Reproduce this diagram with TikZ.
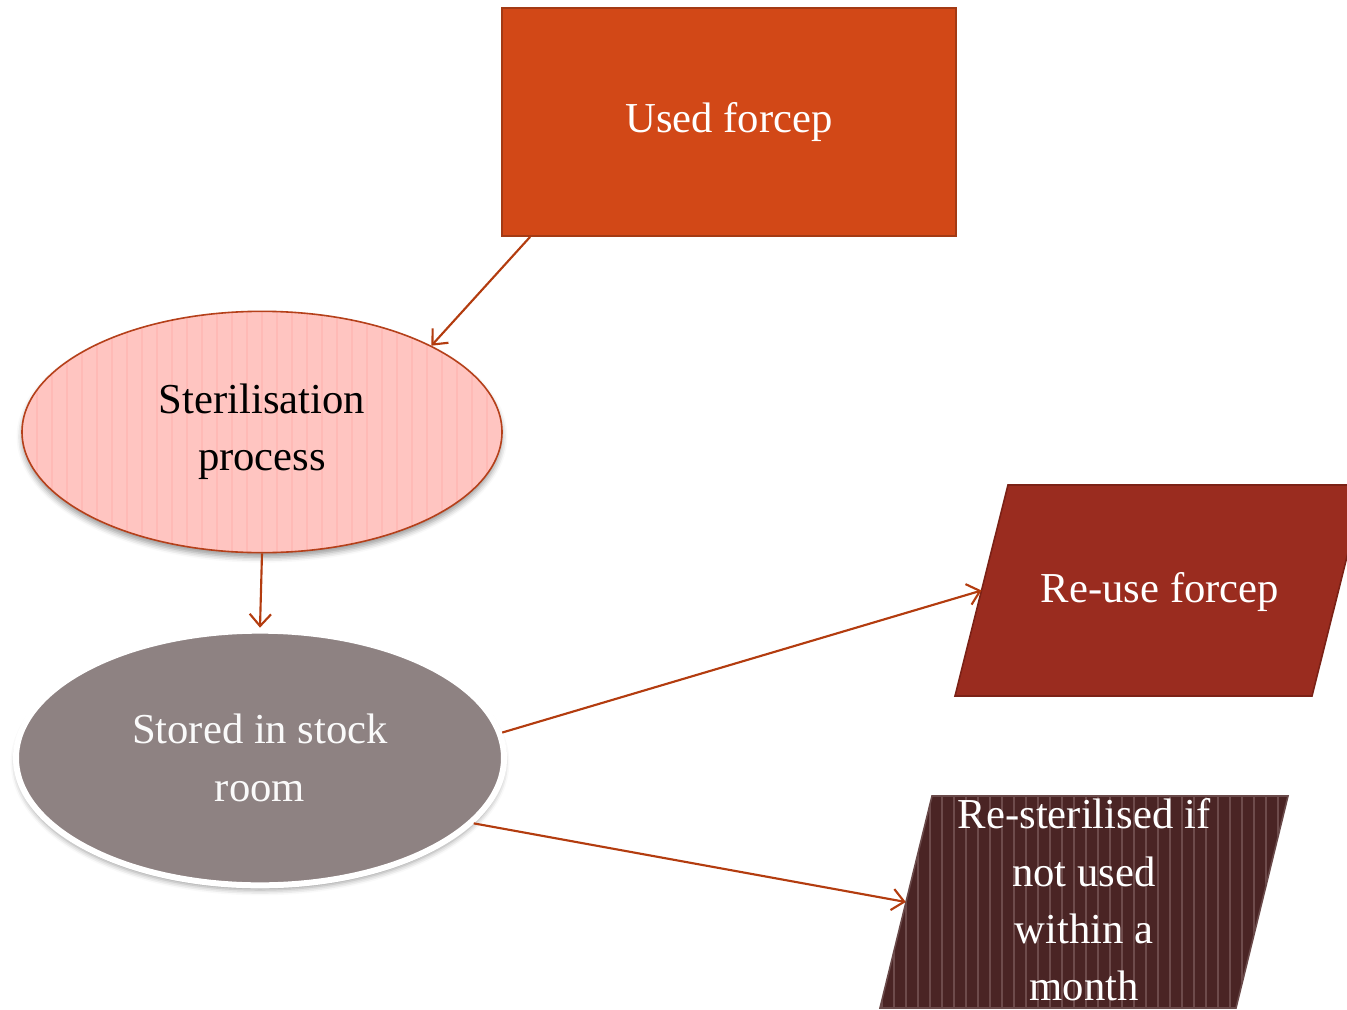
\documentclass[tikz,border=0pt]{standalone}
\usepackage{fontspec}
\setmainfont{Liberation Serif}
\usetikzlibrary{shapes.geometric,arrows.meta,shadows.blur}

\definecolor{usedfill}{HTML}{D24817}
\definecolor{usedline}{HTML}{A33A14}
\definecolor{sterfill}{HTML}{FFC5C1}
\definecolor{sterstripe}{HTML}{FFBAB6}
\definecolor{sterline}{HTML}{B5401A}
\definecolor{storefill}{HTML}{8E8282}
\definecolor{reusefill}{HTML}{9A2C1F}
\definecolor{reuseline}{HTML}{7B2116}
\definecolor{resfill}{HTML}{4A2424}
\definecolor{resstripe}{HTML}{6E4B4B}
\definecolor{resline}{HTML}{6A4A4A}
\definecolor{flow}{HTML}{B33C0F}

\tikzset{
  txt/.style={font=\fontsize{32}{43}\selectfont, align=center},
  usedbox/.style={rectangle, txt, text=white, fill=usedfill, draw=usedline,
    line width=1.2pt, minimum width=340.5pt, minimum height=171pt},
  stripes/.style n args={3}{path picture={
      \foreach \k in {0,...,45}
        \draw[#1, line width=#2]
          ([xshift=\k*#3]path picture bounding box.south west) --
          ([xshift=\k*#3]path picture bounding box.north west);}},
  sterell/.style={ellipse, txt, text=black, fill=sterfill, draw=sterline,
    line width=1.2pt, minimum width=360pt, minimum height=181pt,
    stripes={sterstripe}{2.2pt}{11.25pt},
    blur shadow={shadow xshift=0pt, shadow yshift=-3.5pt, shadow blur radius=4pt,
      shadow opacity=40}},
  storeell/.style={ellipse, txt, text=white!96!storefill, fill=storefill,
    draw=white, line width=4.5pt, minimum width=366pt, minimum height=191pt,
    blur shadow={shadow xshift=0pt, shadow yshift=-3.5pt, shadow blur radius=4pt,
      shadow opacity=40}},
  parabox/.style={line width=1.2pt, line join=miter},
  flowarrow/.style={draw=flow, line width=1.6pt,
    -{Straight Barb[length=9pt, width=16pt, line width=1.6pt]}}
}

\begin{document}
\begin{tikzpicture}[x=0.75pt, y=-0.75pt]
\useasboundingbox (0,0) rectangle (1347,1010);
\clip (0,0) rectangle (1347,1010);

% process steps
\node[usedbox] (used) at (729,122) {\raisebox{-3pt}{Used forcep}};
\node[sterell] (ster) at (262,432) {Sterilisation\\process};
\node[storeell] (stored) at (260,758) {Stored in stock\\room};

% outcome: re-use (parallelogram running off the right edge)
\draw[parabox, fill=reusefill, draw=reuseline]
  (1008,485) -- (1365,485) -- (1312,696) -- (955,696) -- cycle;
\coordinate (reusein) at (981.6,590.5);
\node[txt, text=white] (reuse) at (1160,592) {Re-use forcep};

% outcome: re-sterilise (striped parallelogram)
\begin{scope}
  \clip (932,796) -- (1288,796) -- (1236,1008) -- (880,1008) -- cycle;
  \fill[resfill] (870,790) rectangle (1300,1015);
  \foreach \k in {0,...,36}
    \draw[resstripe, line width=0.8pt] (882+\k*12,790) -- (882+\k*12,1015);
\end{scope}
\draw[parabox, draw=resline]
  (932,796) -- (1288,796) -- (1236,1008) -- (880,1008) -- cycle;
\coordinate (resin) at (905.8,902);
\node[txt, text=white] (resteril) at (1084,900) {Re-sterilised if\\not used\\within a\\month};

% flow
\draw[flowarrow] (used.210) -- (ster.27);
\draw[flowarrow] (ster.south) -- (stored.north);
\draw[flowarrow] (stored.6) -- (reusein);
\draw[flowarrow] (stored.-17) -- (resin);
\end{tikzpicture}
\end{document}
